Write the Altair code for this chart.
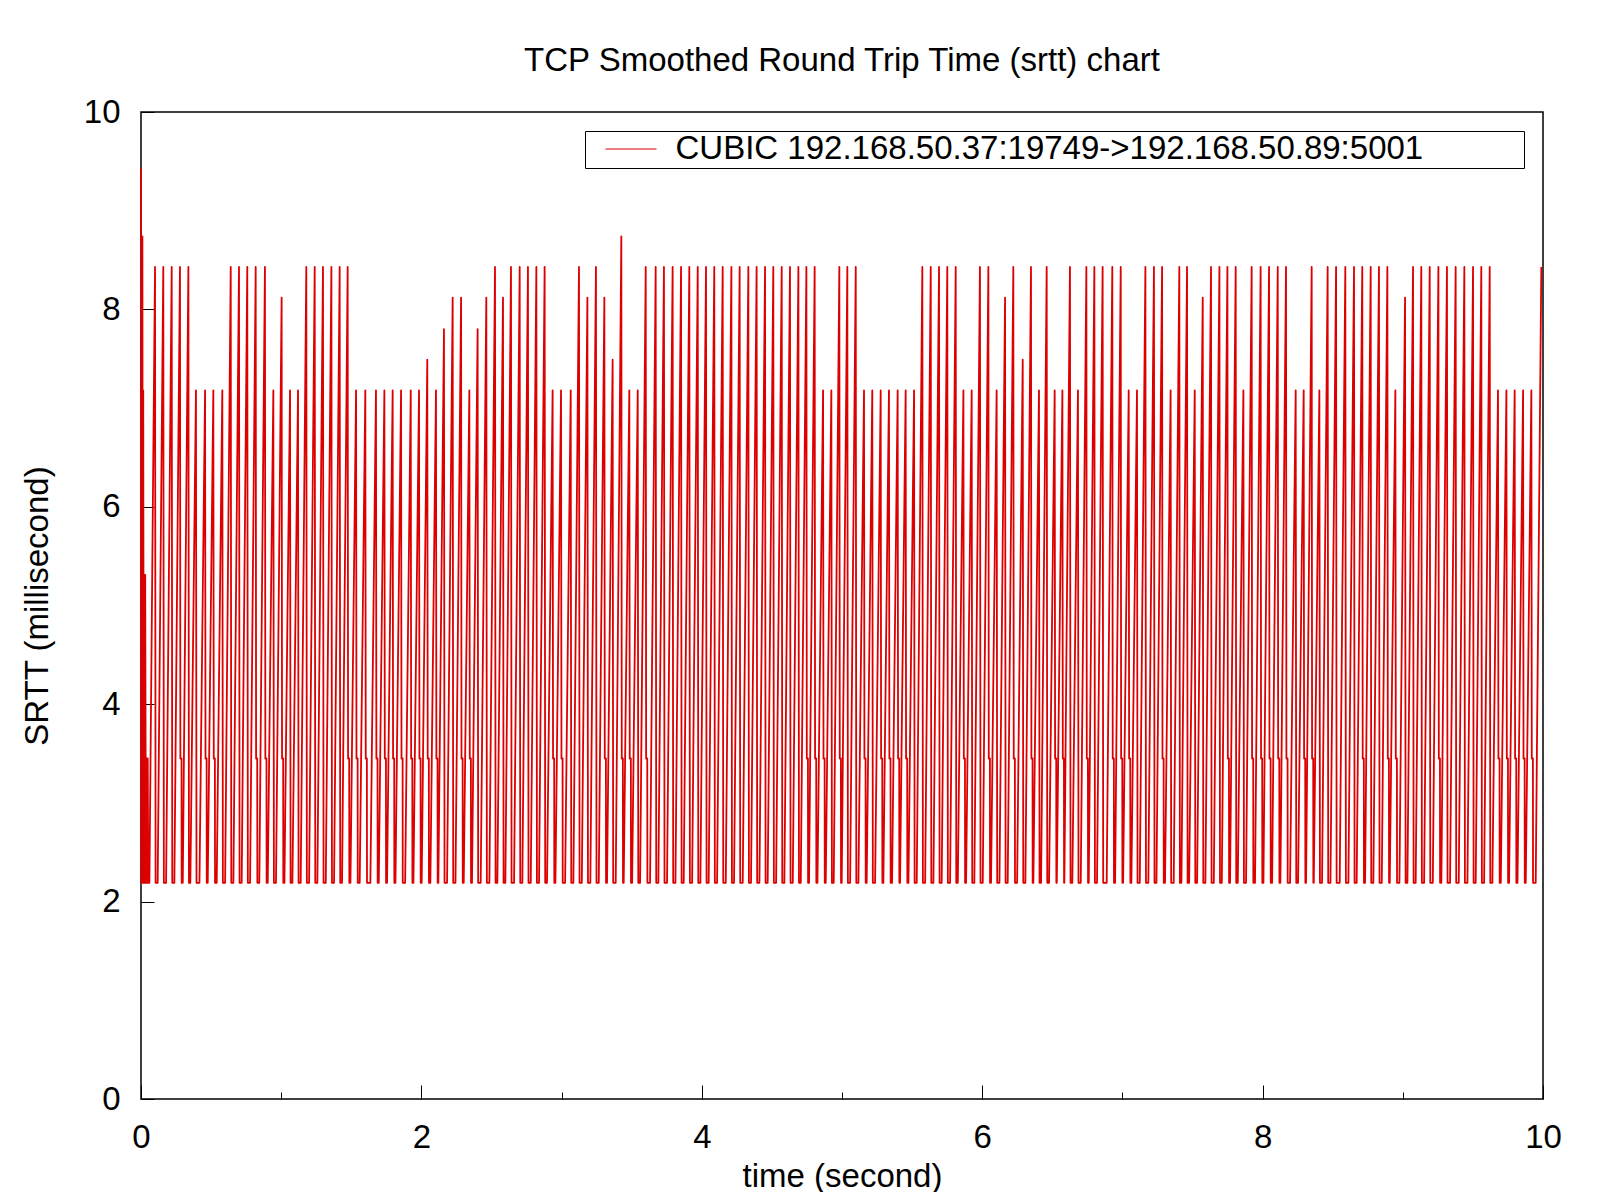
import altair as alt
import pandas as pd

SERIES = "CUBIC 192.168.50.37:19749->192.168.50.89:5001"
LINE_COLOR = "#dd0000"
FONT = "Liberation Sans"
FS = 33

BASE = 2.19   # floor level of the sawtooth
STUB = 3.45   # short plateau level seen after some drops

# start-up burst at t = 0
start_times = [0.000, 0.002, 0.004, 0.007, 0.010, 0.013, 0.016, 0.020, 0.024,
               0.027, 0.030, 0.033, 0.036, 0.040, 0.044, 0.048, 0.052]
start_values = [9.43, 2.19, 8.74, 2.19, 8.74, 2.19, 7.18, 2.19, 5.31,
                2.19, 5.31, 3.45, 2.19, 3.45, 2.19, 3.45, 2.19]

# peaks (time in s, srtt in ms), read section by section
peaks_t1 = [0.100, 0.159, 0.219, 0.278, 0.338, 0.392, 0.457, 0.516, 0.580, 0.640,
            0.699, 0.758, 0.818, 0.884, 0.944, 1.003, 1.063, 1.120, 1.179, 1.239,
            1.298, 1.358, 1.417, 1.474, 1.534, 1.600]
peaks_v1 = [8.43, 8.43, 8.43, 8.43, 8.43, 7.18, 7.18, 7.18, 7.18, 8.43,
            8.43, 8.43, 8.43, 8.43, 7.18, 8.12, 7.18, 7.18, 8.43, 8.43,
            8.43, 8.43, 8.43, 8.43, 7.18, 7.18]
peaks_t2 = [1.676, 1.736, 1.795, 1.855, 1.924, 1.983, 2.042, 2.104, 2.161, 2.223,
            2.283, 2.342, 2.401, 2.463, 2.525, 2.582, 2.639, 2.701, 2.760, 2.820,
            2.879, 2.936, 2.996, 3.065, 3.124, 3.184, 3.245, 3.305]
peaks_v2 = [7.18, 7.18, 7.18, 7.18, 7.18, 7.18, 7.49, 7.18, 7.80, 8.12,
            8.12, 7.18, 7.80, 8.12, 8.43, 8.12, 8.43, 8.43, 8.43, 8.43,
            8.43, 7.18, 7.18, 7.18, 8.43, 8.12, 8.43, 8.12]
peaks_t3 = [3.364, 3.426, 3.483, 3.543, 3.600, 3.671, 3.730, 3.792, 3.852, 3.911,
            3.971, 4.030, 4.089, 4.149, 4.211, 4.270, 4.332, 4.391, 4.451, 4.510,
            4.570, 4.629, 4.689, 4.746, 4.805, 4.865, 4.924, 4.981]
peaks_v3 = [7.49, 8.74, 7.18, 7.18, 8.43, 8.43, 8.43, 8.43, 8.43, 8.43,
            8.43, 8.43, 8.43, 8.43, 8.43, 8.43, 8.43, 8.43, 8.43, 8.43,
            8.43, 8.43, 8.43, 8.43, 8.43, 7.18, 7.18, 8.43]
peaks_t4 = [5.038, 5.098, 5.157, 5.216, 5.276, 5.335, 5.397, 5.454, 5.514, 5.573,
            5.633, 5.692, 5.751, 5.811, 5.866, 5.925, 5.984, 6.044, 6.103, 6.163,
            6.222, 6.289, 6.348, 6.405, 6.460, 6.517, 6.572, 6.626, 6.683]
peaks_v4 = [8.43, 8.43, 7.18, 7.18, 7.18, 7.18, 7.18, 7.18, 7.18, 8.43,
            8.43, 8.43, 8.43, 8.43, 7.18, 7.18, 8.43, 8.43, 7.18, 8.12,
            8.43, 7.49, 8.43, 7.18, 8.43, 7.18, 7.18, 8.43, 7.18]
peaks_t5 = [6.743, 6.800, 6.859, 6.928, 6.988, 7.045, 7.104, 7.164, 7.225, 7.283,
            7.344, 7.406, 7.461, 7.516, 7.573, 7.632, 7.692, 7.749, 7.808, 7.863,
            7.922, 7.986, 8.046, 8.108, 8.167, 8.236, 8.293, 8.350]
peaks_v5 = [8.43, 8.43, 8.43, 8.43, 8.43, 7.18, 7.18, 8.43, 8.43, 8.43,
            7.18, 8.43, 8.43, 7.18, 8.12, 8.43, 8.43, 8.43, 8.43, 7.18,
            8.43, 8.43, 8.43, 8.43, 8.43, 7.18, 7.18, 8.43]
peaks_t6 = [8.405, 8.464, 8.524, 8.590, 8.652, 8.711, 8.771, 8.830, 8.890, 8.947,
            9.016, 9.073, 9.132, 9.192, 9.254, 9.315, 9.377, 9.439, 9.501, 9.560,
            9.620, 9.679, 9.739, 9.798, 9.858, 9.917, 9.988]
peaks_v6 = [7.18, 8.43, 8.43, 8.43, 8.43, 8.43, 8.43, 8.43, 8.43, 7.18,
            8.12, 8.43, 8.43, 8.43, 8.43, 8.43, 8.43, 8.43, 8.43, 8.43,
            8.43, 7.18, 7.18, 7.18, 7.18, 7.18, 8.43]

# peaks that are followed by a short plateau at STUB
stub_after = [0.278, 0.457, 0.516, 0.818, 0.884, 1.003, 1.474, 1.534, 1.600,
              1.676, 1.736, 1.795, 1.855, 1.924, 1.983, 2.042, 2.104, 2.283, 2.342,
              2.936, 2.996, 3.305, 3.426, 3.483, 3.600, 4.746, 4.805, 4.865, 4.981,
              5.157, 5.276, 5.335, 5.397, 5.454, 5.866, 6.044, 6.222, 6.348, 6.517,
              6.572, 6.743, 6.928, 6.988, 7.045, 7.283, 7.749, 7.922, 7.986, 8.046,
              8.108, 8.167, 8.293, 8.350, 8.711, 8.890, 8.947, 9.254, 9.679, 9.739,
              9.798, 9.858, 9.917]

peak_times = peaks_t1 + peaks_t2 + peaks_t3 + peaks_t4 + peaks_t5 + peaks_t6
peak_values = peaks_v1 + peaks_v2 + peaks_v3 + peaks_v4 + peaks_v5 + peaks_v6

# build the sawtooth polyline: slow rise to each peak, sharp drop afterwards
RISE = 0.040
DROP = 0.004
ts, vs = list(start_times), list(start_values)
stubs = set(stub_after)
prev_end = ts[-1]
for i, (tp, v) in enumerate(zip(peak_times, peak_values)):
    rs = max(tp - RISE, prev_end + 0.001)
    ts.append(rs); vs.append(BASE)
    ts.append(tp); vs.append(v)
    if i == len(peak_times) - 1:
        break
    if tp in stubs:
        ts += [tp + 0.003, tp + 0.011, tp + 0.012]
        vs += [STUB, STUB, BASE]
        prev_end = tp + 0.012
    else:
        ts.append(tp + DROP); vs.append(BASE)
        prev_end = tp + DROP

df = pd.DataFrame({"t": ts, "srtt": vs, "idx": range(len(ts)), "series": SERIES})

x_scale = alt.Scale(domain=[0, 10], nice=False, zero=False)
y_scale = alt.Scale(domain=[0, 10], nice=False, zero=False)

main = alt.Chart(df).mark_line(strokeWidth=1.8, strokeJoin="round").encode(
    x=alt.X("t:Q", scale=x_scale, axis=alt.Axis(
        orient="bottom", values=[0, 2, 4, 6, 8, 10], format="d",
        title="time (second)", offset=-14, tickSize=14, tickColor="black", tickWidth=1,
        domain=False, grid=False, labelPadding=22, labelFlush=False,
        labelOverlap=False, labelFontSize=FS, labelFont=FONT, labelColor="black",
        titleFontSize=FS, titleFont=FONT, titleFontWeight="normal", titleColor="black",
        titlePadding=6)),
    y=alt.Y("srtt:Q", scale=y_scale, axis=alt.Axis(
        orient="left", values=[0, 2, 4, 6, 8, 10], format="d",
        title="SRTT (millisecond)", offset=-13, tickSize=13, tickColor="black", tickWidth=1,
        domain=False, grid=False, labelPadding=21, labelFlush=False,
        labelOverlap=False, labelFontSize=FS, labelFont=FONT, labelColor="black",
        titleFontSize=FS, titleFont=FONT, titleFontWeight="normal", titleColor="black",
        titlePadding=29)),
    order="idx:Q",
    color=alt.Color("series:N", scale=alt.Scale(domain=[SERIES], range=[LINE_COLOR]),
                    legend=alt.Legend(
                        title="x", titleOrient="right", titleOpacity=0,
                        titleFontSize=FS, titlePadding=80,
                        orient="top-right", offset=19,
                        strokeColor="black", fillColor="white", padding=1.5,
                        cornerRadius=0,
                        symbolType="M-2,0H2", symbolSize=650, symbolStrokeWidth=1.2,
                        symbolOffset=28, labelOffset=28,
                        labelFontSize=FS, labelFont=FONT, labelColor="black",
                        labelLimit=3000)),
)

minor = alt.Chart(df).mark_line(opacity=0).encode(
    x=alt.X("t:Q", scale=x_scale, axis=alt.Axis(
        orient="bottom", values=[1, 3, 5, 7, 9], offset=-7, tickSize=7,
        tickColor="black", tickWidth=1, labels=False, domain=False, grid=False,
        title=None)),
    y=alt.Y("srtt:Q", scale=y_scale, axis=None),
    order="idx:Q",
)

chart = alt.layer(main, minor).resolve_axis(x="independent", y="independent").properties(
    width=1402, height=987,
    title=alt.TitleParams("TCP Smoothed Round Trip Time (srtt) chart", fontSize=FS,
                          font=FONT, fontWeight="normal", color="black",
                          anchor="middle", frame="group", baseline="alphabetic",
                          offset=41, dy=49),
    autosize=alt.AutoSizeParams(type="none"),
    padding={"left": 133, "top": 104, "right": 49, "bottom": 93},
).configure(background="white").configure_view(stroke="black", strokeWidth=1.5)

chart.save("out.html", embed_options={"renderer": "svg", "actions": False})
